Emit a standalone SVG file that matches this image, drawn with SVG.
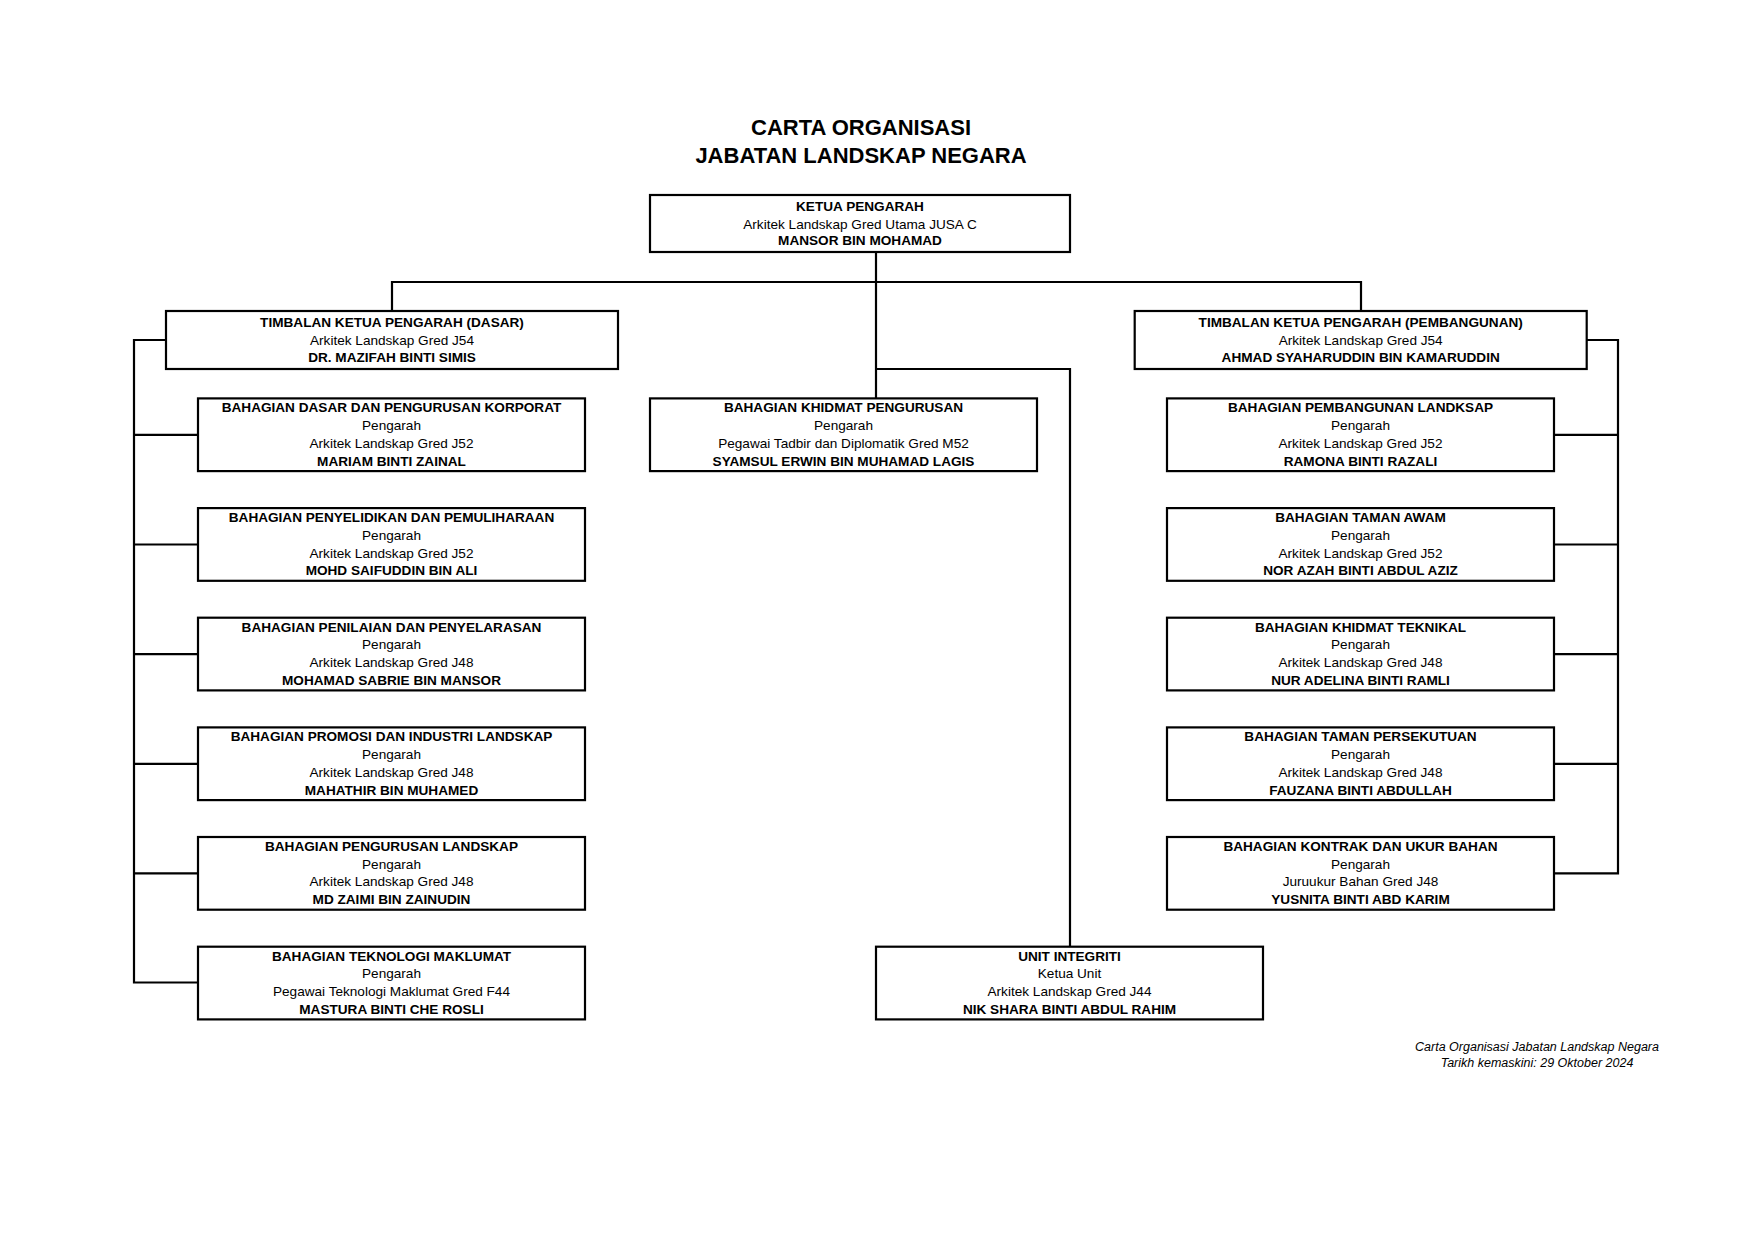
<svg xmlns="http://www.w3.org/2000/svg" width="1754" height="1240" viewBox="0 0 1754 1240">
<style>
.box{fill:#fff;stroke:#000;stroke-width:2.2}
.ln{fill:none;stroke:#000;stroke-width:2.2}
text{font-family:"Liberation Sans",Arial,sans-serif;fill:#000;text-anchor:middle}
.t{font-size:13.6px}
.b{font-weight:bold}
.title{font-size:22px;font-weight:bold}
.foot{font-size:12.5px;font-style:italic}
</style>
<rect width="1754" height="1240" fill="#fff"/>
<g id="title">
<text class="title" x="861" y="135">CARTA ORGANISASI</text>
<text class="title" x="861" y="163">JABATAN LANDSKAP NEGARA</text>
</g>
<g id="connectors">
<path class="ln" d="M392 311V282H1361V311"/>
<path class="ln" d="M876 252V398.4"/>
<path class="ln" d="M876 369H1070V946.7"/>
<path class="ln" d="M166 340H134V982.5H198"/>
<path class="ln" d="M134 434.8H198M134 544.5H198M134 654.1H198M134 763.8H198M134 873.4H198"/>
<path class="ln" d="M1586.7 340H1618V873.4H1554"/>
<path class="ln" d="M1618 434.8H1554M1618 544.5H1554M1618 654.1H1554M1618 763.8H1554"/>
</g>
<g id="ketua">
<rect class="box" x="650" y="195" width="420" height="57"/>
<text class="t b" x="860" y="211">KETUA PENGARAH</text>
<text class="t" x="860" y="228.5">Arkitek Landskap Gred Utama JUSA C</text>
<text class="t b" x="860" y="245">MANSOR BIN MOHAMAD</text>
</g>
<g id="tkp-dasar">
<rect class="box" x="166" y="311" width="452" height="58"/>
<text class="t b" x="392" y="327">TIMBALAN KETUA PENGARAH (DASAR)</text>
<text class="t" x="392" y="344.5">Arkitek Landskap Gred J54</text>
<text class="t b" x="392" y="362">DR. MAZIFAH BINTI SIMIS</text>
</g>
<g id="tkp-pembangunan">
<rect class="box" x="1134.7" y="311" width="452" height="58"/>
<text class="t b" x="1360.7" y="327">TIMBALAN KETUA PENGARAH (PEMBANGUNAN)</text>
<text class="t" x="1360.7" y="344.5">Arkitek Landskap Gred J54</text>
<text class="t b" x="1360.7" y="362">AHMAD SYAHARUDDIN BIN KAMARUDDIN</text>
</g>
<g id="b-dasar-korporat">
<rect class="box" x="198" y="398.4" width="387" height="72.7"/>
<text class="t b" x="391.5" y="412.4">BAHAGIAN DASAR DAN PENGURUSAN KORPORAT</text>
<text class="t" x="391.5" y="430.1">Pengarah</text>
<text class="t" x="391.5" y="447.8">Arkitek Landskap Gred J52</text>
<text class="t b" x="391.5" y="465.5">MARIAM BINTI ZAINAL</text>
</g>
<g id="b-penyelidikan">
<rect class="box" x="198" y="508.1" width="387" height="72.7"/>
<text class="t b" x="391.5" y="522.1">BAHAGIAN PENYELIDIKAN DAN PEMULIHARAAN</text>
<text class="t" x="391.5" y="539.8">Pengarah</text>
<text class="t" x="391.5" y="557.5">Arkitek Landskap Gred J52</text>
<text class="t b" x="391.5" y="575.2">MOHD SAIFUDDIN BIN ALI</text>
</g>
<g id="b-penilaian">
<rect class="box" x="198" y="617.7" width="387" height="72.7"/>
<text class="t b" x="391.5" y="631.7">BAHAGIAN PENILAIAN DAN PENYELARASAN</text>
<text class="t" x="391.5" y="649.4">Pengarah</text>
<text class="t" x="391.5" y="667.1">Arkitek Landskap Gred J48</text>
<text class="t b" x="391.5" y="684.8">MOHAMAD SABRIE BIN MANSOR</text>
</g>
<g id="b-promosi">
<rect class="box" x="198" y="727.4" width="387" height="72.7"/>
<text class="t b" x="391.5" y="741.4">BAHAGIAN PROMOSI DAN INDUSTRI LANDSKAP</text>
<text class="t" x="391.5" y="759.1">Pengarah</text>
<text class="t" x="391.5" y="776.8">Arkitek Landskap Gred J48</text>
<text class="t b" x="391.5" y="794.5">MAHATHIR BIN MUHAMED</text>
</g>
<g id="b-pengurusan-landskap">
<rect class="box" x="198" y="837" width="387" height="72.7"/>
<text class="t b" x="391.5" y="851">BAHAGIAN PENGURUSAN LANDSKAP</text>
<text class="t" x="391.5" y="868.7">Pengarah</text>
<text class="t" x="391.5" y="886.4">Arkitek Landskap Gred J48</text>
<text class="t b" x="391.5" y="904.1">MD ZAIMI BIN ZAINUDIN</text>
</g>
<g id="b-teknologi">
<rect class="box" x="198" y="946.7" width="387" height="72.7"/>
<text class="t b" x="391.5" y="960.7">BAHAGIAN TEKNOLOGI MAKLUMAT</text>
<text class="t" x="391.5" y="978.4">Pengarah</text>
<text class="t" x="391.5" y="996.1">Pegawai Teknologi Maklumat Gred F44</text>
<text class="t b" x="391.5" y="1013.8">MASTURA BINTI CHE ROSLI</text>
</g>
<g id="b-khidmat-pengurusan">
<rect class="box" x="650" y="398.4" width="387" height="72.7"/>
<text class="t b" x="843.5" y="412.4">BAHAGIAN KHIDMAT PENGURUSAN</text>
<text class="t" x="843.5" y="430.1">Pengarah</text>
<text class="t" x="843.5" y="447.8">Pegawai Tadbir dan Diplomatik Gred M52</text>
<text class="t b" x="843.5" y="465.5">SYAMSUL ERWIN BIN MUHAMAD LAGIS</text>
</g>
<g id="unit-integriti">
<rect class="box" x="876" y="946.7" width="387" height="72.7"/>
<text class="t b" x="1069.5" y="960.7">UNIT INTEGRITI</text>
<text class="t" x="1069.5" y="978.4">Ketua Unit</text>
<text class="t" x="1069.5" y="996.1">Arkitek Landskap Gred J44</text>
<text class="t b" x="1069.5" y="1013.8">NIK SHARA BINTI ABDUL RAHIM</text>
</g>
<g id="b-pembangunan-landskap">
<rect class="box" x="1167" y="398.4" width="387" height="72.7"/>
<text class="t b" x="1360.5" y="412.4">BAHAGIAN PEMBANGUNAN LANDKSAP</text>
<text class="t" x="1360.5" y="430.1">Pengarah</text>
<text class="t" x="1360.5" y="447.8">Arkitek Landskap Gred J52</text>
<text class="t b" x="1360.5" y="465.5">RAMONA BINTI RAZALI</text>
</g>
<g id="b-taman-awam">
<rect class="box" x="1167" y="508.1" width="387" height="72.7"/>
<text class="t b" x="1360.5" y="522.1">BAHAGIAN TAMAN AWAM</text>
<text class="t" x="1360.5" y="539.8">Pengarah</text>
<text class="t" x="1360.5" y="557.5">Arkitek Landskap Gred J52</text>
<text class="t b" x="1360.5" y="575.2">NOR AZAH BINTI ABDUL AZIZ</text>
</g>
<g id="b-khidmat-teknikal">
<rect class="box" x="1167" y="617.7" width="387" height="72.7"/>
<text class="t b" x="1360.5" y="631.7">BAHAGIAN KHIDMAT TEKNIKAL</text>
<text class="t" x="1360.5" y="649.4">Pengarah</text>
<text class="t" x="1360.5" y="667.1">Arkitek Landskap Gred J48</text>
<text class="t b" x="1360.5" y="684.8">NUR ADELINA BINTI RAMLI</text>
</g>
<g id="b-taman-persekutuan">
<rect class="box" x="1167" y="727.4" width="387" height="72.7"/>
<text class="t b" x="1360.5" y="741.4">BAHAGIAN TAMAN PERSEKUTUAN</text>
<text class="t" x="1360.5" y="759.1">Pengarah</text>
<text class="t" x="1360.5" y="776.8">Arkitek Landskap Gred J48</text>
<text class="t b" x="1360.5" y="794.5">FAUZANA BINTI ABDULLAH</text>
</g>
<g id="b-kontrak">
<rect class="box" x="1167" y="837" width="387" height="72.7"/>
<text class="t b" x="1360.5" y="851">BAHAGIAN KONTRAK DAN UKUR BAHAN</text>
<text class="t" x="1360.5" y="868.7">Pengarah</text>
<text class="t" x="1360.5" y="886.4">Juruukur Bahan Gred J48</text>
<text class="t b" x="1360.5" y="904.1">YUSNITA BINTI ABD KARIM</text>
</g>
<g id="footer">
<text class="foot" x="1537" y="1050.7">Carta Organisasi Jabatan Landskap Negara</text>
<text class="foot" x="1537" y="1066.7">Tarikh kemaskini: 29 Oktober 2024</text>
</g>
</svg>
